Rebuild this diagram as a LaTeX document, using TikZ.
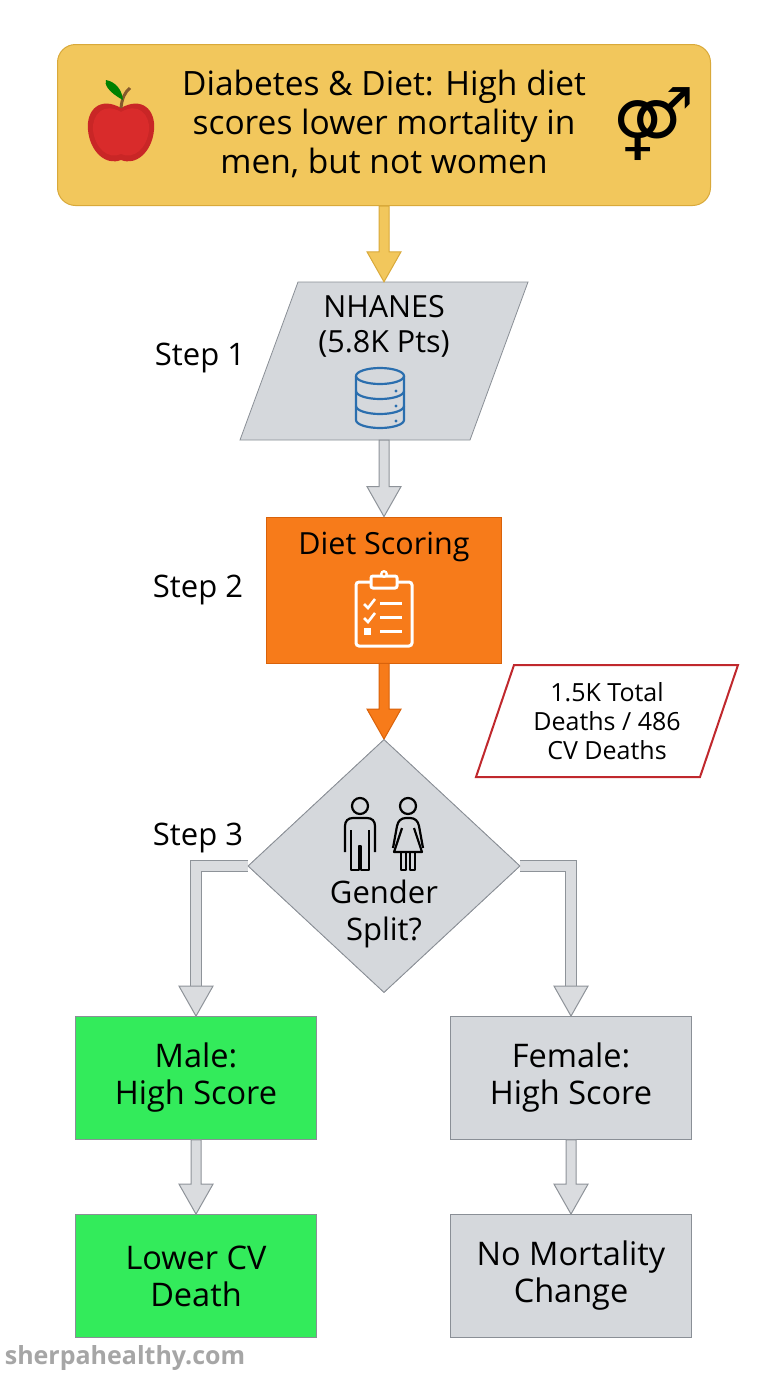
\documentclass[tikz,border=0pt]{standalone}
\usepackage{fontspec}
\setmainfont{Open Sans}
\newfontfamily\symf{DejaVu Sans}
\usetikzlibrary{calc,shapes.geometric}
\definecolor{ygold}{HTML}{F2C75C}
\definecolor{ygoldd}{HTML}{D9A93A}
\definecolor{gbox}{HTML}{D5D8DC}
\definecolor{gline}{HTML}{8A8F96}
\definecolor{orng}{HTML}{F77B1A}
\definecolor{orngd}{HTML}{D9620A}
\definecolor{grn}{HTML}{33EB5B}
\definecolor{redl}{HTML}{C0282D}
\definecolor{dbblue}{HTML}{2A6EAE}
\definecolor{lgarr}{HTML}{DADCDF}
\definecolor{garr}{HTML}{8E9399}
\tikzset{
 box/.style={draw=gline, line width=0.8pt, minimum width=241pt, minimum height=123pt, align=center, font=\fontsize{32.5}{37}\selectfont, inner sep=0pt},
 steplbl/.style={font=\fontsize{31}{34}\selectfont},
 yarr/.style={fill=ygold, draw=ygoldd, line width=1pt, line join=miter},
 oarr/.style={fill=orng, draw=orngd, line width=1pt, line join=miter},
 garrow/.style={fill=lgarr, draw=garr, line width=1pt, line join=miter},
 dmd/.style={diamond, fill=gbox, draw=gline, line width=0.8pt, minimum width=272pt, minimum height=253pt, inner sep=0pt, aspect=1.075},
 person/.style={black, line width=2.2pt, line join=round},
}
\newcommand{\vbarrow}[3]{%
 \path[#1] let \p1=#2, \p2=#3 in
 (\x1-5pt,\y1) -- (\x1-5pt,\y2+30pt) -- (\x1-17pt,\y2+30pt) -- (\x1,\y2) --
 (\x1+17pt,\y2+30pt) -- (\x1+5pt,\y2+30pt) -- (\x1+5pt,\y1) -- cycle;}
\newcommand{\persons}{%
\begin{scope}[person]
\draw (360,806) circle (8pt);
\draw (345,852) -- (345,826) .. controls (345,821) and (348,818) .. (353,818) -- (367,818) .. controls (372,818) and (375,821) .. (375,826) -- (375,852);
\draw (351,830) -- (351,870) -- (359,870) -- (359,846) -- (361,846) -- (361,870) -- (369,870) -- (369,830);
\draw (408,806) circle (8pt);
\draw (393,848) -- (397,826) .. controls (398,821) and (401,818) .. (406,818) -- (410,818) .. controls (415,818) and (418,821) .. (419,826) -- (423,848);
\draw (402,828) -- (394,852) -- (422,852) -- (414,828);
\draw (401,852) -- (401,870) -- (406,870) -- (406,852);
\draw (410,852) -- (410,870) -- (415,870) -- (415,852);
\end{scope}}
\begin{document}
\begin{tikzpicture}[x=1pt,y=-1pt]
\useasboundingbox (0,0) rectangle (768,1376);
\fill[white] (0,0) rectangle (768,1376);
% title
\node[draw=ygoldd, fill=ygold, line width=1pt, rounded corners=18pt, minimum width=653pt, minimum height=161pt] (title) at (384,125) {};
\node[align=center, font=\fontsize{33.5}{39}\selectfont] (ttext) at (384,124) {Diabetes \& Diet: High diet\\scores lower mortality in\\men, but not women};
% apple
\fill[red!75!black!85] (121,108) .. controls (100,96) and (86,110) .. (88,130) .. controls (90,152) and (106,166) .. (121,160) .. controls (136,166) and (152,152) .. (154,130) .. controls (156,110) and (142,96) .. (121,108) -- cycle;
\fill[red!80!white!85!black] (121,112) .. controls (104,102) and (92,114) .. (93,130) .. controls (95,148) and (108,160) .. (121,154) .. controls (134,160) and (147,148) .. (149,130) .. controls (150,114) and (138,102) .. (121,112) -- cycle;
\draw[brown!70!black, line width=3pt] (121,108) .. controls (122,98) and (125,92) .. (130,88);
\fill[green!50!black] (123,100) .. controls (108,92) and (104,84) .. (106,80) .. controls (116,82) and (122,90) .. (123,100);
\node[font=\symf\fontsize{70}{70}\selectfont] (gsym) at (654,124) {⚤};
% NHANES
\node[minimum width=230pt, minimum height=158pt, inner sep=0pt] (nh) at (384,361) {};
\draw[fill=gbox, draw=gline, line width=0.8pt] (298,282) -- (528,282) -- (470,440) -- (240,440) -- cycle;
\node[align=center, font=\fontsize{30.5}{35}\selectfont] (nht) at (384,326) {NHANES\\(5.8K Pts)};
\begin{scope}[dbblue, line width=2.2pt]
\draw (380,376) ellipse (24pt and 8pt);
\draw (356,376) -- (356,420) arc[start angle=180, end angle=360, x radius=24pt, y radius=8pt] -- (404,376);
\draw (356,391) arc[start angle=180, end angle=360, x radius=24pt, y radius=8pt];
\draw (356,406) arc[start angle=180, end angle=360, x radius=24pt, y radius=8pt];
\fill (396,391) circle (1.6pt); \fill (396,406) circle (1.6pt); \fill (396,421) circle (1.6pt);
\end{scope}
\node[steplbl] (s1) at (200,358) {Step 1};
% diet scoring
\node[box, fill=orng, draw=orngd, minimum width=235pt, minimum height=146pt] (ds) at (384,590) {};
\node[font=\fontsize{30.5}{32}\selectfont] (dst) at (384,547) {Diet Scoring};
\begin{scope}[white, line width=3pt]
\draw[rounded corners=3pt] (356,582) rectangle (412,646);
\draw[rounded corners=2pt, fill=orng] (371,576) rectangle (397,588);
\fill[white] (384,574) circle (4pt);
\fill[orng] (384,574) circle (1.6pt);
\draw[line width=2.6pt] (364,604) -- (368,608) -- (375,599);
\draw[line width=2.6pt] (364,618) -- (368,622) -- (375,613);
\fill (364,628) rectangle (371,635);
\draw (380,603) -- (402,603); \draw (380,617) -- (402,617); \draw (380,631) -- (402,631);
\end{scope}
\node[steplbl] (s2) at (198,590) {Step 2};
% deaths
\node[minimum width=224pt, minimum height=112pt, inner sep=0pt] (dth) at (607,721) {};
\draw[fill=white, draw=redl, line width=2pt] (514,665) -- (738,665) -- (700,777) -- (476,777) -- cycle;
\node[align=center, font=\fontsize{25}{29}\selectfont] (dtht) at (607,721) {1.5K Total\\Deaths / 486\\CV Deaths};
% outcome boxes
\node[box, fill=grn] (male) at (196,1078) {Male:\\High Score};
\node[box, fill=gbox] (fem) at (571,1078) {Female:\\High Score};
\node[box, fill=grn] (low) at (196,1276) {Lower CV\\Death};
\node[box, fill=gbox] (nom) at (571,1276) {No Mortality\\Change};
% diamond (for anchors)
\node[dmd] (dm) at (384,866) {};
% arrows
\vbarrow{yarr}{(title.south)}{(nh.north)}
\vbarrow{garrow}{(nh.south)}{(ds.north)}
\vbarrow{oarr}{(ds.south)}{(dm.north)}
\vbarrow{garrow}{(male.south)}{(low.north)}
\vbarrow{garrow}{(fem.south)}{(nom.north)}
% elbow arrows
\coordinate (lk) at (196,866);
\coordinate (rk) at (571,866);
\foreach \a/\k/\b in {dm.west/lk/male, dm.east/rk/fem}{
 \draw[garr, line width=12pt, line join=miter] (\a) -- (\k) -- ($(\b.north)+(0,-29)$);
 \draw[lgarr, line width=10pt, line join=miter] (\a) -- (\k) -- ($(\b.north)+(0,-28)$);
 \path[garrow] ($(\b.north)+(-17,-30)$) -- (\b.north) -- ($(\b.north)+(17,-30)$) -- cycle;
}
\node[dmd] at (384,866) {};
\node[align=center, font=\fontsize{31}{37}\selectfont] (dmt) at (384,914) {Gender\\Split?};
\persons
\node[steplbl] (s3) at (198,838) {Step 3};
\node[font=\bfseries\fontsize{25}{28}\selectfont, text=black!35] (wm) at (125,1358) {sherpahealthy.com};
\end{tikzpicture}
\end{document}
